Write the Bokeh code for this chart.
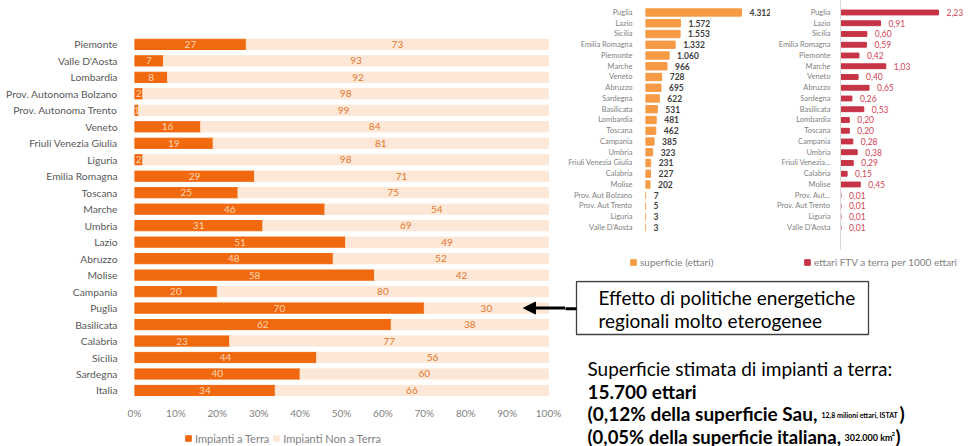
from bokeh.plotting import figure
from bokeh.layouts import row, column
from bokeh.models import (Range1d, FixedTicker, Legend, LegendItem, Arrow, NormalHead,
                          ColumnDataSource, PrintfTickFormatter)
from bokeh.embed import file_html
from bokeh.resources import INLINE
from bokeh.core.properties import value

# --- Quota di impianti a terra / non a terra per regione (%) ---
regions = ["Piemonte", "Valle D'Aosta", "Lombardia", "Prov. Autonoma Bolzano",
           "Prov. Autonoma Trento", "Veneto", "Friuli Venezia Giulia", "Liguria",
           "Emilia Romagna", "Toscana", "Marche", "Umbria", "Lazio", "Abruzzo",
           "Molise", "Campania", "Puglia", "Basilicata", "Calabria", "Sicilia",
           "Sardegna", "Italia"]
terra = [27, 7, 8, 2, 1, 16, 19, 2, 29, 25, 46, 31, 51, 48, 58, 20, 70, 62, 23, 44, 40, 34]
non_terra = [73, 93, 92, 98, 99, 84, 81, 98, 71, 75, 54, 69, 49, 52, 42, 80, 30, 38, 77, 56, 60, 66]
pct_ticks = [0, 10, 20, 30, 40, 50, 60, 70, 80, 90, 100]

# --- Superficie FTV a terra (ettari) e ettari per 1000 ettari ---
rank_regions = ["Puglia", "Lazio", "Sicilia", "Emilia Romagna", "Piemonte", "Marche",
                "Veneto", "Abruzzo", "Sardegna", "Basilicata", "Lombardia", "Toscana",
                "Campania", "Umbria", "Friuli Venezia Giulia", "Calabria", "Molise",
                "Prov. Aut Bolzano", "Prov. Aut Trento", "Liguria", "Valle D'Aosta"]
rank_regions_short = ["Puglia", "Lazio", "Sicilia", "Emilia Romagna", "Piemonte", "Marche",
                      "Veneto", "Abruzzo", "Sardegna", "Basilicata", "Lombardia", "Toscana",
                      "Campania", "Umbria", "Friuli Venezia...", "Calabria", "Molise",
                      "Prov. Aut...", "Prov. Aut Trento", "Liguria", "Valle D'Aosta"]
superficie = [4312, 1572, 1553, 1332, 1060, 966, 728, 695, 622, 531, 481, 462,
              385, 323, 231, 227, 202, 7, 5, 3, 3]
per_mille = [2.23, 0.91, 0.60, 0.59, 0.42, 1.03, 0.40, 0.65, 0.26, 0.53, 0.20, 0.20,
             0.28, 0.38, 0.29, 0.15, 0.45, 0.01, 0.01, 0.01, 0.01]

FONT = "Lato"
DARK = "#F0690F"
LIGHT = "#FDE7D6"
ORANGE2 = "#F79A45"
RED = "#C63446"


def clean(p):
    p.xgrid.grid_line_color = None
    p.ygrid.grid_line_color = None
    p.outline_line_color = None
    p.background_fill_color = "white"
    p.border_fill_color = "white"


def style_cat_axis(ax, ticks, names, size, color, standoff):
    ax.ticker = FixedTicker(ticks=ticks)
    ax.major_label_overrides = {i: n for i, n in zip(ticks, names)}
    ax.axis_line_color = None
    ax.major_tick_line_color = None
    ax.minor_tick_line_color = None
    ax.major_label_text_font = FONT
    ax.major_label_text_font_size = size
    ax.major_label_text_color = color
    ax.major_label_standoff = standoff


def legend_strip(width, height, entries, loc, font_size):
    """A strip carrying only a horizontal legend with square keys; the keyed
    points sit outside its view."""
    s = figure(width=width, height=height, x_range=Range1d(0, 1),
               y_range=Range1d(1000, 1001), output_backend="svg",
               toolbar_location=None, x_axis_location=None, y_axis_location=None,
               min_border=0)
    clean(s)
    items = []
    for label, source, xfield, color in entries:
        r = s.scatter(x=xfield, y="y", marker="square", size=6, color=color, source=source)
        items.append(LegendItem(label=label, renderers=[r]))
    s.add_layout(Legend(items=items, orientation="horizontal", location=loc,
                        border_line_color=None, background_fill_alpha=0, glyph_width=14,
                        glyph_height=14, padding=0, margin=0, spacing=0,
                        label_standoff=0, label_text_font=FONT,
                        label_text_font_size=font_size, label_text_color="#7F7F7F"))
    return s


# ---------------- stacked percentage chart ----------------
ys = list(range(len(regions)))
src = ColumnDataSource(dict(
    y=ys,
    terra=terra,
    tot=[t + n for t, n in zip(terra, non_terra)],
    mid_t=[t / 2 for t in terra],
    mid_n=[t + n / 2 for t, n in zip(terra, non_terra)],
    lab_t=[str(t) for t in terra],
    lab_n=[str(n) for n in non_terra],
))

left = figure(width=565, height=421, x_range=Range1d(0, 104.1),
              y_range=Range1d(21.73, -2.663), output_backend="svg",
              toolbar_location=None, min_border_left=134, min_border_right=0,
              min_border_top=0, min_border_bottom=18)
clean(left)
left.hbar(y="y", left=0, right="terra", height=0.62, color=DARK, source=src)
left.hbar(y="y", left="terra", right="tot", height=0.62, color=LIGHT, source=src)
left.text(x="mid_t", y="y", text="lab_t", text_align="center", text_baseline="middle",
          text_font=value(FONT), text_font_size="10px", text_color="#FCD5B4", source=src)
left.text(x="mid_n", y="y", text="lab_n", text_align="center", text_baseline="middle",
          text_font=value(FONT), text_font_size="10px", text_color="#E0782F", source=src)

style_cat_axis(left.yaxis[0], ys, regions, "10.3px", "#595959", 11)
xa = left.xaxis[0]
xa.ticker = FixedTicker(ticks=pct_ticks)
xa.formatter = PrintfTickFormatter(format="%d%%")
xa.axis_line_color = None
xa.major_tick_line_color = None
xa.minor_tick_line_color = None
xa.major_label_text_font = FONT
xa.major_label_text_font_size = "10px"
xa.major_label_text_color = "#7F7F7F"
xa.major_label_standoff = -2

left.add_layout(Arrow(end=NormalHead(size=12, fill_color="black", line_color="black"),
                      x_start=104.1, y_start=16, x_end=93.96, y_end=16,
                      line_width=3, line_color="black"))

leg_left = legend_strip(565, 25, [("Impianti a Terra", src, "terra", DARK),
                                  ("Impianti Non a Terra", src, "tot", LIGHT)],
                        (47, 1), "11px")

# ---------------- superficie (ettari) ----------------
ry = list(range(len(rank_regions)))
src1 = ColumnDataSource(dict(y=ry, v=superficie,
                             lab=[f"{v:,}".replace(",", ".") for v in superficie]))
f1 = figure(width=205, height=250, x_range=Range1d(0, 5615),
            y_range=Range1d(22.14, -1.116), output_backend="svg",
            toolbar_location=None, x_axis_location=None, min_border_left=80,
            min_border_right=0, min_border_top=0, min_border_bottom=0)
clean(f1)
f1.hbar(y="y", left=0, right="v", height=0.68, color=ORANGE2, source=src1)
f1.text(x="v", y="y", text="lab", x_offset=8, text_align="left", text_baseline="middle",
        text_font=value(FONT), text_font_size="8.5px", text_font_style="bold",
        text_color="#404040", source=src1)
style_cat_axis(f1.yaxis[0], ry, rank_regions, "7.5px", "#7F7F7F", 7)

# ---------------- ettari per 1000 ettari ----------------
src2 = ColumnDataSource(dict(y=ry, v=per_mille,
                             lab=[f"{v:.2f}".replace(".", ",") for v in per_mille]))
f2 = figure(width=198, height=250, x_range=Range1d(0, 2.913),
            y_range=Range1d(22.14, -1.116), output_backend="svg",
            toolbar_location=None, x_axis_location=None, min_border_left=70,
            min_border_right=0, min_border_top=0, min_border_bottom=0)
clean(f2)
f2.hbar(y="y", left=0, right="v", height=0.45, color=RED, source=src2)
f2.text(x="v", y="y", text="lab", x_offset=8, text_align="left", text_baseline="middle",
        text_font=value(FONT), text_font_size="8.5px", text_color="#D04455", source=src2)
style_cat_axis(f2.yaxis[0], ry, rank_regions_short, "7.5px", "#7F7F7F", 4)
f2.yaxis[0].axis_line_color = "#D9D9D9"

leg_f1 = legend_strip(205, 30, [("superficie (ettari)", src1, "v", ORANGE2)],
                      (61, 11), "10px")
leg_f2 = legend_strip(198, 30, [("ettari FTV a terra per 1000 ettari", src2, "v", RED)],
                      (30, 11), "10px")

# ---------------- note panel ----------------
note = figure(width=403, height=166, x_range=Range1d(0, 403), y_range=Range1d(166, 0),
              output_backend="svg", toolbar_location=None, x_axis_location=None,
              y_axis_location=None, min_border=0)
clean(note)
note.quad(left=[11], right=[303], top=[1], bottom=[54], fill_color=None,
          line_color="#404040", line_width=1.3)
note.segment(x0=[-2], y0=[28.3], x1=[11], y1=[28.3], line_color="black", line_width=3)


def txt(x, y, s, size, bold=False):
    note.text(x=[x], y=[y], text=[s], text_align="left", text_baseline="middle",
              text_font=value(FONT), text_font_size=size,
              text_font_style="bold" if bold else "normal", text_color="black")


txt(33, 17, "Effetto di politiche energetiche", "19px")
txt(33, 40, "regionali molto eterogenee", "19px")
txt(22, 88, "Superficie stimata di impianti a terra:", "19px")
txt(22, 111, "15.700 ettari", "19px", True)
txt(22, 133, "(0,12% della superficie Sau,", "19px", True)
txt(256, 134, "12,8 milioni ettari, ISTAT", "7px", True)
txt(334, 133, ")", "19px", True)
txt(22, 156, "(0,05% della superficie italiana,", "18.5px", True)
txt(279, 157, "302.000 km", "9px", True)
txt(326, 153, "2", "6px", True)
txt(330, 156, ")", "18.5px", True)

layout = row(column(left, leg_left),
             column(row(f1, f2), row(leg_f1, leg_f2), note))
open("out.html", "w").write(file_html(layout, INLINE))
